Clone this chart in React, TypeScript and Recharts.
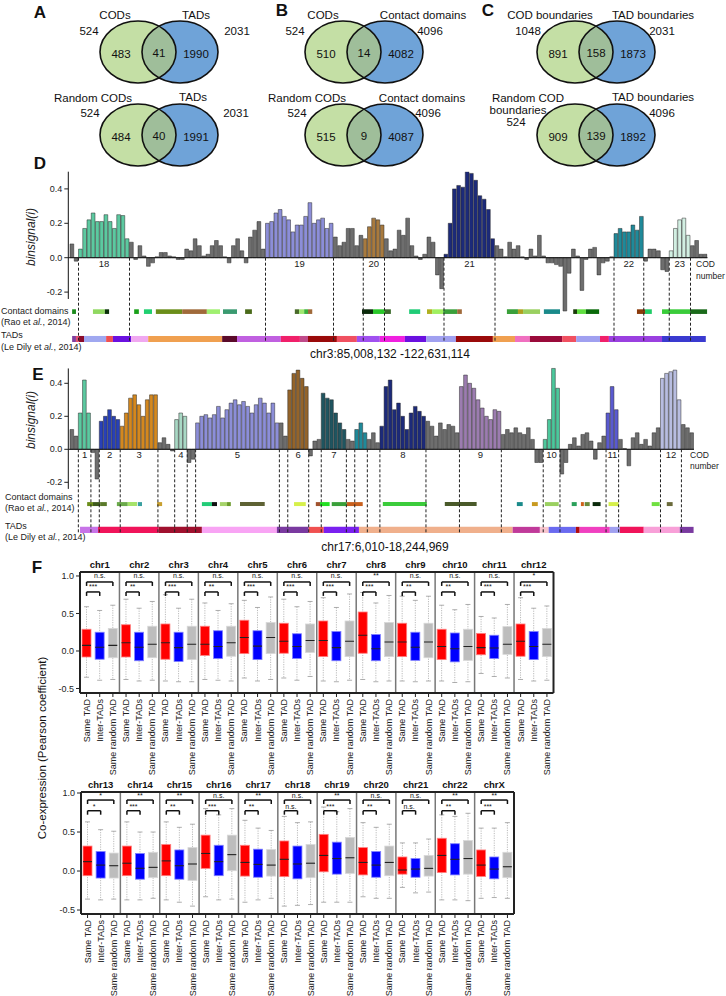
import React from 'react';
import {
  BarChart, Bar, Cell, XAxis, YAxis, ReferenceLine, ReferenceArea, ReferenceDot,
  ScatterChart, Scatter,
} from 'recharts';

const FONT = 'Arial, "Liberation Sans", Helvetica, sans-serif';

// ---------- A-C: Venn counts [left only, shared, right only]
const codVsTad = [483, 41, 1990];
const randomCodVsTad = [484, 40, 1991];
const codVsContact = [510, 14, 4082];
const randomCodVsContact = [515, 9, 4087];
const boundaryVsTad = [891, 158, 1873];
const randomBoundaryVsTad = [909, 139, 1892];
const vennTotalsTop = ['524', '2031', '524', '4096', '1048', '2031'];
const vennTotalsBottom = ['524', '2031', '524', '4096', '524', '4096'];

// ---------- D: chr3 binsignal
const chr3Signal = [
  0.08, -0.02, 0.05, 0.17, 0.22, 0.26, 0.21, 0.21, 0.25, 0.21, 0.17, 0.25, 0.245, 0.11,
  0.09, -0.01, 0.07, 0.01, -0.05, -0.03, 0.005, 0.03, 0.03, 0.01, 0.005, -0.01, -0.01, 0.05,
  0.04, 0.11, 0.07, 0.01, 0.02, 0.07, 0.1, 0.07, 0.005, -0.03, 0.07, 0.11, 0.04, -0.03,
  0.12, 0.16, 0.21, 0.05,
  0.2, 0.21, 0.26, 0.28, 0.24, 0.22, 0.15, 0.19, 0.19, 0.24, 0.32, 0.2, 0.22, 0.23, 0.17, 0.2,
  0.12, 0.07, 0.09, 0.17, 0.17, 0.07, 0.13,
  0.11, 0.18, 0.23, 0.22, 0.19,
  0.11, 0.04, 0.05, 0.16, 0.13, 0.23, 0.07, 0.01, -0.01, 0.02, 0.12, 0.09, -0.1, -0.18,
  0.02, 0.2, 0.4, 0.42, 0.41, 0.5, 0.49, 0.45, 0.36, 0.34, 0.28, 0.11,
  0.07, 0.05, 0.005, 0.09, 0.05, 0.07, 0.005, -0.01, 0.05, 0.01, 0.13, 0.01, -0.03, -0.03,
  -0.04, -0.05, -0.31, -0.09, 0.05, 0.01, -0.19, -0.01, 0.05, 0.06, -0.1, -0.03, -0.02, 0.005,
  0.14, 0.17, 0.15, 0.15, 0.19, 0.16, 0.24,
  -0.02, 0.05, 0.05, 0.04, -0.07, -0.08,
  0.04, 0.17, 0.22, 0.23, 0.13,
  0.07, 0.1, 0.02, 0.02,
];
const chr3CodLabels = ['18', '19', '20', '21', '22', '23'];
const chr3CodBins = [[2, 14], [46, 62], [69, 74], [88, 100], [128, 135], [141, 146]];
const chr3CodColors = ['#5cc9a0', '#8c8ed8', '#a87a3e', '#1c2a7a', '#1f8a9a', '#d2efe2'];
const chr3ContactBins = [
  [0.5, 1.4], [5.4, 8.2], [8.2, 9.2], [15.1, 16.2], [17.4, 19.3], [20.2, 26.4], [26.4, 32.2],
  [32.2, 35.3], [36, 39.3], [41.2, 42.8], [52.9, 53.9], [53.9, 55.1], [55.1, 56], [56, 57],
  [68.7, 71.3], [71.3, 74.1], [74.1, 75.5], [79.8, 82.4], [84, 85.2], [85.2, 87.8], [87.8, 91.1],
  [91.1, 92.2], [102.8, 105.4], [105.4, 106.6], [106.6, 110.6], [111.5, 115.3], [118.4, 119.3],
  [119.3, 121.4], [121.4, 124.5], [133.4, 135.3], [135.3, 136.9], [139.3, 145.9], [145.9, 149.9],
];
const chr3ContactColors = [
  '#1a8a1a', '#90d860', '#0a300a', '#18a018', '#20d070', '#6b8e1a', '#a06a3a',
  '#a0f070', '#3a9a70', '#4a6a1a', '#4a6a2a', '#a0e870', '#3ab03a', '#a06a3a',
  '#0a2a0a', '#2ac82a', '#3a6a2a', '#20cc77', '#b0b020', '#a0f060', '#3aa03a',
  '#a06a3a', '#3aa03a', '#b0a020', '#9ad060', '#1a8a8a', '#1a3a0a',
  '#60e040', '#0a6a0a', '#8a3a0a', '#20cc66', '#3acc3a', '#1a6a1a',
];
const chr3TadBins = [
  [0.5, 1.4], [1.4, 2.1], [2.1, 3.3], [3.3, 8.5], [8.5, 10.1], [10.1, 14.4], [14.4, 18.4],
  [18.4, 35.8], [35.8, 39.3], [39.3, 49.6], [49.6, 54.1], [54.1, 56], [56, 62.8], [62.8, 67.5],
  [67.5, 72.9], [72.9, 78.8], [78.8, 83.8], [83.8, 90.8], [90.8, 99.5], [99.5, 104.7],
  [104.7, 108.2], [108.2, 115.8], [115.8, 119.1], [119.1, 124.7], [124.7, 126.8],
  [126.8, 139.3], [139.3, 149.6],
];
const chr3TadColors = [
  '#8040a0', '#e05070', '#8b0a2a', '#a0a8f0', '#f05050', '#6a10e0', '#f0a8f0',
  '#f0a050', '#5a0a2a', '#c060e0', '#f0206a', '#c04a8a', '#9a0a0a', '#f05060',
  '#a050f0', '#f020e0', '#6a10e0', '#a0a0f0', '#9a0a0a', '#f0a050',
  '#f070c0', '#9a0a3a', '#f05060', '#a0a0f0', '#f0206a',
  '#9a40e0', '#3a3ad0',
];

// ---------- E: chr17 binsignal
const chr17Signal = [
  0.12, 0.08,
  0.22, 0.42, 0.22,
  -0.02, -0.18,
  0.17, 0.2, 0.24, 0.2, 0.18,
  0.14, 0.22, 0.31, 0.33, 0.27, 0.2, 0.3, 0.33, 0.33,
  0.04, 0.07, 0.03, -0.01,
  0.18, 0.22, 0.2,
  -0.08, -0.06,
  0.16, 0.2, 0.21, 0.19, 0.21, 0.26, 0.19, 0.24, 0.28, 0.3, 0.27, 0.29, 0.26, 0.22, 0.27,
  0.31, 0.28, 0.22, 0.28, 0.16,
  0.16, 0.08,
  0.36, 0.46, 0.48, 0.43, 0.38,
  -0.04, 0.05, 0.06,
  0.34, 0.31, 0.3, 0.22, 0.16, 0.12,
  0.06, 0.05,
  0.12, 0.16, 0.1,
  0.06, 0.1, 0.04,
  0.14, 0.38, 0.42, 0.24, 0.28, 0.2, 0.12, 0.22, 0.26, 0.23, 0.2,
  0.17, 0.14, 0.08, 0.16, 0.12, 0.15, 0.14, 0.1,
  0.38, 0.45, 0.4, 0.37, 0.3, 0.25, 0.2, 0.18, 0.24, 0.23,
  0.09, 0.12, 0.1, 0.13, 0.1, 0.09, 0.13, 0.06, -0.08, -0.08,
  0.06, 0.18, 0.49, 0.37,
  -0.15, -0.08, 0.03, 0.07, 0.02, 0.09, 0.1, 0.05, -0.06, 0.04, 0.08,
  0.22, 0.38, 0.24,
  0.06, 0.005, -0.1, 0.07, 0.1, 0.03, 0.06, 0.02, 0.1, 0.13,
  0.43, 0.46, 0.47, 0.48, 0.3,
  0.15, 0.13, 0.1,
];
const chr17CodLabels = ['1', '2', '3', '4', '5', '6', '7', '', '8', '9', '10', '11', '12'];
const chr17CodBins = [
  [2, 5], [7, 12], [12, 21], [25, 28], [30, 50], [52, 57], [60, 66], [68, 71], [74, 85],
  [93, 103], [113, 117], [128, 131], [141, 146],
];
const chr17CodColors = [
  '#5cc9a0', '#2840b8', '#d4881e', '#a8d8c4', '#8c8ed8', '#94642a', '#1f5560', '#1f8a9a',
  '#1c2a7a', '#9c7cb0', '#4cc89c', '#5a5ad0', '#b8bde0',
];
const chr17ContactBins = [
  [4.1, 5.5], [5.5, 7.2], [7.2, 8.8], [11.2, 13.8], [13.8, 16], [16.2, 17.2], [20.8, 22],
  [31.5, 33.9], [33.9, 35.1], [35.8, 37.5], [37.5, 38.4], [40.6, 46.5], [53.5, 56.3],
  [58.7, 59.7], [59.7, 62], [62.5, 66.1], [66.1, 69.9], [74.7, 85.2], [89.5, 97.1],
  [106.7, 108.1], [110.3, 111.7], [113.4, 116.7], [119.8, 121], [122, 122.7], [122.9, 124.1],
  [124.8, 126.7], [128.6, 131], [138.9, 140.8], [142.5, 143.9],
];
const chr17ContactColors = [
  '#6b8e1a', '#3e5a1c', '#5a7a2a', '#6aaa4a', '#a6e36a', '#3aa0a0', '#c8a030',
  '#22cc77', '#111111', '#a6d36a', '#6a9a2a', '#5e6234', '#d6f04a',
  '#a0522d', '#22e022', '#3aa03a', '#c8601e', '#3ccc3c', '#4a5a2a',
  '#1a8a8a', '#c89a20', '#9ad060', '#2aa05a', '#d0601a', '#6a8a3a',
  '#0a2a0a', '#d6f04a', '#70e040', '#6a6a3a',
];
const chr17TadBins = [
  [2.4, 6.7], [6.7, 21.2], [21.2, 31.5], [31.5, 49.4], [49.4, 57], [57, 60.6], [60.6, 69],
  [69, 105.7], [105.7, 112.2], [112.2, 114.3], [114.3, 120.8], [120.8, 121.7], [121.7, 128.9],
  [128.9, 131.3], [131.3, 137], [137, 145.6], [145.6, 148.9],
];
const chr17TadColors = [
  '#c774e8', '#f0145a', '#a0102e', '#f8a4f4', '#7a3aa0', '#f05050', '#7a20f0',
  '#f0b08c', '#c03a9a', '#f8c4cc', '#6a6af0', '#b00a0a', '#f040c0',
  '#a0a0f0', '#f0145a', '#f8a0d8', '#7a3aa0',
];

// ---------- F: co-expression box plots  [lower whisker, Q1, median, Q3, upper whisker]
const chrRow1 = ['chr1', 'chr2', 'chr3', 'chr4', 'chr5', 'chr6', 'chr7', 'chr8', 'chr9', 'chr10', 'chr11', 'chr12'];
const chrRow2 = ['chr13', 'chr14', 'chr15', 'chr16', 'chr17', 'chr18', 'chr19', 'chr20', 'chr21', 'chr22', 'chrX'];
const groups = ['Same TAD', 'Inter-TADs', 'Same random TAD'];
const sameTad = [
  [-0.35, -0.08, 0.075, 0.29, 0.59], [-0.38, -0.08, 0.11, 0.35, 0.69], [-0.4, -0.11, 0.11, 0.36, 0.75],
  [-0.38, -0.06, 0.09, 0.33, 0.64], [-0.36, -0.035, 0.18, 0.41, 0.675], [-0.36, -0.03, 0.13, 0.37, 0.69],
  [-0.4, -0.075, 0.14, 0.4, 0.71], [-0.38, -0.03, 0.21, 0.52, 0.78], [-0.4, -0.075, 0.12, 0.37, 0.73],
  [-0.4, -0.115, 0.06, 0.29, 0.61], [-0.3, -0.05, 0.045, 0.235, 0.46], [-0.38, -0.07, 0.13, 0.36, 0.71],
  [-0.36, -0.06, 0.12, 0.32, 0.63], [-0.37, -0.06, 0.1, 0.32, 0.63], [-0.37, -0.06, 0.13, 0.34, 0.63],
  [-0.33, 0.034, 0.225, 0.46, 0.8], [-0.4, -0.065, 0.11, 0.33, 0.65], [-0.45, -0.072, 0.15, 0.385, 0.7],
  [-0.4, -0.01, 0.2, 0.47, 0.82], [-0.33, -0.05, 0.11, 0.3, 0.62], [-0.21, -0.04, 0.013, 0.18, 0.36],
  [-0.37, -0.02, 0.2, 0.42, 0.72], [-0.35, -0.07, 0.076, 0.27, 0.55],
];
const interTads = [
  [-0.39, -0.11, 0.05, 0.25, 0.54], [-0.4, -0.13, 0.05, 0.25, 0.57], [-0.41, -0.14, 0.045, 0.25, 0.57],
  [-0.39, -0.1, 0.06, 0.27, 0.54], [-0.4, -0.115, 0.065, 0.27, 0.58], [-0.39, -0.1, 0.06, 0.23, 0.59],
  [-0.41, -0.13, 0.045, 0.26, 0.58], [-0.41, -0.13, 0.03, 0.22, 0.64], [-0.41, -0.125, 0.05, 0.25, 0.675],
  [-0.42, -0.145, 0.03, 0.24, 0.55], [-0.34, -0.1, 0.04, 0.21, 0.44], [-0.4, -0.115, 0.06, 0.26, 0.57],
  [-0.37, -0.09, 0.076, 0.25, 0.53], [-0.37, -0.105, 0.035, 0.225, 0.5], [-0.4, -0.105, 0.068, 0.27, 0.56],
  [-0.37, -0.06, 0.12, 0.33, 0.72], [-0.37, -0.08, 0.085, 0.28, 0.55], [-0.44, -0.1, 0.09, 0.32, 0.62],
  [-0.4, -0.04, 0.16, 0.37, 0.76], [-0.35, -0.08, 0.076, 0.25, 0.56], [-0.28, -0.08, 0.025, 0.16, 0.36],
  [-0.37, -0.05, 0.15, 0.35, 0.7], [-0.34, -0.1, 0.025, 0.18, 0.55],
];
const sameRandomTad = [
  [-0.38, -0.09, 0.075, 0.3, 0.61], [-0.39, -0.09, 0.09, 0.33, 0.66], [-0.41, -0.115, 0.09, 0.33, 0.69],
  [-0.4, -0.07, 0.11, 0.33, 0.63], [-0.38, -0.035, 0.18, 0.38, 0.72], [-0.34, -0.02, 0.14, 0.36, 0.66],
  [-0.39, -0.075, 0.13, 0.4, 0.76], [-0.4, -0.075, 0.12, 0.38, 0.74], [-0.4, -0.09, 0.12, 0.37, 0.73],
  [-0.41, -0.125, 0.06, 0.29, 0.62], [-0.36, -0.045, 0.09, 0.325, 0.62], [-0.39, -0.075, 0.09, 0.3, 0.6],
  [-0.36, -0.09, 0.068, 0.23, 0.51], [-0.35, -0.085, 0.047, 0.24, 0.5], [-0.45, -0.12, 0.09, 0.3, 0.6],
  [-0.36, 0.004, 0.21, 0.46, 0.8], [-0.35, -0.065, 0.076, 0.275, 0.52], [-0.43, -0.085, 0.1, 0.34, 0.63],
  [-0.4, -0.03, 0.17, 0.43, 0.8], [-0.35, -0.06, 0.11, 0.32, 0.6], [-0.27, -0.065, 0.034, 0.2, 0.41],
  [-0.38, -0.04, 0.16, 0.39, 0.74], [-0.35, -0.085, 0.055, 0.24, 0.62],
];
const sigSameVsRandom = [
  'n.s.', 'n.s.', 'n.s.', 'n.s.', 'n.s.', 'n.s.', 'n.s.', '**', 'n.s.', 'n.s.', 'n.s.', '*',
  '*', '**', '**', 'n.s.', '**', 'n.s.', '**', 'n.s.', 'n.s.', '**', '**',
];
const sigSameVsInter = [
  '***', '**', '***', '**', '***', '***', '***', '***', '**', '**', '***', '***',
  '*', '***', '**', '***', '**', 'n.s.', '***', '**', 'n.s.', '**', '***',
];

// ---------------------------------------------------------------- Venn
const GREEN = '#c4dfa5';
const BLUE = '#6fa3d8';
const OVERLAP = '#9fbe9a';
const RX = 38;
const RY = 31;
const GAP = 42;

function Venn({ id, counts, cx, cy }: { id: string; counts: number[]; cx: number; cy: number }) {
  const pts = [
    { x: GAP, y: 0, kind: 'fillR' },
    { x: 0, y: 0, kind: 'fillL' },
    { x: GAP / 2, y: 0, kind: 'lens' },
    { x: GAP, y: 0, kind: 'line' },
    { x: 0, y: 0, kind: 'line' },
    { x: -17, y: -2, kind: 'text', label: counts[0] },
    { x: 21, y: -1, kind: 'text', label: counts[1] },
    { x: 58, y: -2, kind: 'text', label: counts[2] },
  ];
  const shape = (p: any) => {
    const { cx: x, cy: y, payload } = p;
    if (payload.kind === 'fillR') return <ellipse cx={x} cy={y} rx={RX} ry={RY} fill={BLUE} />;
    if (payload.kind === 'fillL') return <ellipse cx={x} cy={y} rx={RX} ry={RY} fill={GREEN} />;
    if (payload.kind === 'lens')
      return (
        <g>
          <defs>
            <clipPath id={`lens-${id}`}>
              <ellipse cx={x + GAP / 2} cy={y} rx={RX} ry={RY} />
            </clipPath>
          </defs>
          <ellipse cx={x - GAP / 2} cy={y} rx={RX} ry={RY} fill={OVERLAP} clipPath={`url(#lens-${id})`} />
        </g>
      );
    if (payload.kind === 'line')
      return <ellipse cx={x} cy={y} rx={RX} ry={RY} fill="none" stroke="#111" strokeWidth={1.6} />;
    return (
      <text x={x} y={y} textAnchor="middle" dominantBaseline="central" fontSize={11.5} fill="#111" fontFamily={FONT}>
        {payload.label}
      </text>
    );
  };
  return (
    <div style={{ position: 'absolute', left: cx - 60, top: cy - 40 }}>
      <ScatterChart width={200} height={80} margin={{ top: 0, right: 0, bottom: 0, left: 0 }}>
        <XAxis type="number" dataKey="x" domain={[-60, 140]} hide />
        <YAxis type="number" dataKey="y" domain={[-40, 40]} hide />
        <Scatter data={pts} shape={shape} isAnimationActive={false} />
      </ScatterChart>
    </div>
  );
}

// ---------------------------------------------------------------- D / E
type SignalProps = {
  top: number;
  height: number;
  plotTop: number;
  plotBottom: number;
  right: number;
  yMin: number;
  axisTop: number;
  values: number[];
  codLabels: string[];
  codBins: number[][];
  codColors: string[];
  contactBins: number[][];
  contactColors: string[];
  tadBins: number[][];
  tadColors: string[];
  contactY: number[];
  tadY: number[];
  labelY: number;
};

function SignalPanel(p: SignalProps) {
  const n = p.values.length;
  const data = p.values.map((v, i) => ({ pos: i + 0.5, v }));
  const colorOf = (i: number) => {
    const k = p.codBins.findIndex(([a, b]) => i >= a && i < b);
    return k >= 0 ? p.codColors[k] : '#6e6e6e';
  };
  const edges = Array.from(new Set(p.codBins.flat())).sort((a, b) => a - b);
  const plotLeft = 68.3;
  const pitch = (p.right - 70) / n;
  const barW = Math.max(pitch - 0.5, 1);
  return (
    <div style={{ position: 'absolute', left: 0, top: p.top }}>
      <BarChart
        width={726}
        height={p.height}
        data={data}
        margin={{ top: p.plotTop - p.top, right: 726 - p.right, bottom: p.top + p.height - p.plotBottom, left: plotLeft - 40 }}
      >
        <XAxis type="number" dataKey="pos" domain={[-0.4, n]} hide allowDataOverflow />
        <YAxis
          type="number"
          domain={[p.yMin, 0.5]}
          allowDataOverflow
          ticks={[-0.2, 0, 0.2, 0.4]}
          tickFormatter={(v: number) => v.toFixed(1)}
          width={40}
          axisLine={false}
          tickLine={{ stroke: '#222' }}
          tickSize={4}
          tick={{ fontSize: 9, fill: '#222', fontFamily: FONT }}
        />
        {p.contactBins.map(([a, b], i) => (
          <ReferenceArea key={`c${i}`} x1={a} x2={b} y1={p.contactY[0]} y2={p.contactY[1]} fill={p.contactColors[i]} fillOpacity={1} stroke="none" ifOverflow="visible" />
        ))}
        {p.tadBins.map(([a, b], i) => (
          <ReferenceArea key={`t${i}`} x1={a} x2={b} y1={p.tadY[0]} y2={p.tadY[1]} fill={p.tadColors[i]} fillOpacity={1} stroke="none" ifOverflow="visible" />
        ))}
        <Bar dataKey="v" barSize={barW} stroke="#2a2a2a" strokeWidth={0.5} isAnimationActive={false}>
          {data.map((d, i) => (
            <Cell key={i} fill={colorOf(i)} />
          ))}
        </Bar>
        <ReferenceLine y={0} stroke="#111" strokeWidth={1} />
        <ReferenceLine segment={[{ x: -0.4, y: p.axisTop }, { x: -0.4, y: -0.24 }]} stroke="#111" strokeWidth={1} />
        {edges.map((e) => (
          <ReferenceLine key={`d${e}`} segment={[{ x: e, y: 0 }, { x: e, y: p.tadY[1] }]} stroke="#222" strokeWidth={1} strokeDasharray="3 2" ifOverflow="visible" />
        ))}
        {p.codBins.map(([a, b], i) =>
          p.codLabels[i] ? (
            <ReferenceDot key={`l${i}`} x={(a + b) / 2} y={p.labelY} r={1} fill="none" stroke="none"
              label={{ value: p.codLabels[i], position: 'center', fontSize: 9.5, fill: '#222', fontFamily: FONT }} />
          ) : null,
        )}
      </BarChart>
    </div>
  );
}

// ---------------------------------------------------------------- F
const BOX_FILL = ['#ff0000', '#0000ff', '#bdbdbd'];
const BOX_EDGE = ['#ff8080', '#8080ff', '#d8d8d8'];

const BoxShape = (props: any) => {
  const { x, y, width, height, payload } = props;
  const [lo, q1, med, q3, hi] = payload.s;
  const top = Math.min(y, y + height);
  const h = Math.abs(height);
  const py = (v: number) => top + ((hi - v) / (hi - lo)) * h;
  const cx = x + width / 2;
  const g = payload.g;
  return (
    <g>
      <line x1={cx} x2={cx} y1={py(hi)} y2={py(lo)} stroke="#aaa" strokeWidth={0.8} strokeDasharray="1.2 1.2" />
      <line x1={cx - 2.5} x2={cx + 2.5} y1={py(hi)} y2={py(hi)} stroke="#999" strokeWidth={0.8} />
      <line x1={cx - 2.5} x2={cx + 2.5} y1={py(lo)} y2={py(lo)} stroke="#999" strokeWidth={0.8} />
      <rect x={x} y={py(q3)} width={width} height={py(q1) - py(q3)} fill={BOX_FILL[g]} stroke={BOX_EDGE[g]} strokeWidth={0.8} />
      <line x1={x} x2={x + width} y1={py(med)} y2={py(med)} stroke="#222" strokeWidth={1.1} />
    </g>
  );
};

const GroupTick = (p: any) => {
  const { x, y, payload } = p;
  const label = groups[Math.floor(payload.value) % 3];
  return (
    <text x={x} y={y} transform={`rotate(-90 ${x} ${y})`} textAnchor="end" dominantBaseline="central" fontSize={9} fill="#222" fontFamily={FONT}>
      {label}
    </text>
  );
};

type RowProps = {
  chrs: string[];
  first: number;
  top: number;
  plotTop: number;
  plotBottom: number;
  plotLeft: number;
  plotRight: number;
  height: number;
  yDomain: number[];
  outerY: number;
  innerY: number;
  drop: number;
  outerLabelY: number;
  innerLabelY: number;
};

function BoxRow(p: RowProps) {
  const data: any[] = [];
  p.chrs.forEach((c, k) => {
    [sameTad, interTads, sameRandomTad].forEach((st, j) => {
      const s = st[p.first + k];
      data.push({ pos: 3 * k + j + 0.5, g: j, s, rng: [s[0], s[4]] });
    });
  });
  const n = p.chrs.length * 3;
  const ticks = data.map((d) => d.pos);
  const seps = p.chrs.slice(1).map((_, k) => 3 * (k + 1));
  const refs: React.ReactNode[] = [];
  p.chrs.forEach((c, k) => {
    const a = 3 * k + 0.5;
    const b = 3 * k + 1.5;
    const r = 3 * k + 2.5;
    const so = sigSameVsRandom[p.first + k];
    const si = sigSameVsInter[p.first + k];
    refs.push(
      <ReferenceLine key={`o${k}`} segment={[{ x: a, y: p.outerY }, { x: r, y: p.outerY }]} stroke="#111" strokeWidth={1.5} />,
      <ReferenceLine key={`oa${k}`} segment={[{ x: a, y: p.outerY }, { x: a, y: p.outerY - p.drop }]} stroke="#111" strokeWidth={1.5} />,
      <ReferenceLine key={`ob${k}`} segment={[{ x: r, y: p.outerY }, { x: r, y: p.outerY - p.drop }]} stroke="#111" strokeWidth={1.5} />,
      <ReferenceLine key={`i${k}`} segment={[{ x: a, y: p.innerY }, { x: b, y: p.innerY }]} stroke="#111" strokeWidth={1.5} />,
      <ReferenceLine key={`ia${k}`} segment={[{ x: a, y: p.innerY }, { x: a, y: p.innerY - p.drop }]} stroke="#111" strokeWidth={1.5} />,
      <ReferenceLine key={`ib${k}`} segment={[{ x: b, y: p.innerY }, { x: b, y: p.innerY - p.drop }]} stroke="#111" strokeWidth={1.5} />,
      <ReferenceDot key={`ol${k}`} x={(a + r) / 2} y={p.outerLabelY} r={1} fill="none" stroke="none"
        label={{ value: so, position: 'center', fontSize: 7, fill: '#111', fontFamily: FONT }} />,
      <ReferenceDot key={`il${k}`} x={(a + b) / 2} y={p.innerLabelY} r={1} fill="none" stroke="none"
        label={{ value: si, position: 'center', fontSize: 7, fill: '#111', fontFamily: FONT }} />,
      <ReferenceDot key={`t${k}`} x={3 * k + 1.5} y={p.yDomain[1]} r={1} fill="none" stroke="none" ifOverflow="visible"
        label={{ value: c, position: 'top', offset: 3, fontSize: 9.5, fontWeight: 'bold', fill: '#111', fontFamily: FONT }} />,
    );
  });
  return (
    <div style={{ position: 'absolute', left: 0, top: p.top }}>
      <BarChart
        width={p.plotRight + 6}
        height={p.height}
        data={data}
        margin={{ top: p.plotTop - p.top, right: 6, bottom: 0, left: p.plotLeft - 30 }}
      >
        <XAxis
          type="number"
          dataKey="pos"
          domain={[0, n]}
          ticks={ticks}
          interval={0}
          tick={<GroupTick />}
          tickSize={4}
          tickLine={{ stroke: '#222' }}
          axisLine={{ stroke: '#222', strokeWidth: 2 }}
          height={p.top + p.height - p.plotBottom}
          allowDataOverflow
        />
        <YAxis
          type="number"
          domain={p.yDomain}
          allowDataOverflow
          ticks={[-0.5, 0, 0.5, 1]}
          tickFormatter={(v: number) => v.toFixed(1)}
          width={30}
          tickSize={4}
          tickLine={{ stroke: '#222' }}
          axisLine={{ stroke: '#222', strokeWidth: 2 }}
          tick={{ fontSize: 9, fill: '#222', fontFamily: FONT }}
        />
        {seps.map((s) => (
          <ReferenceLine key={`s${s}`} x={s} stroke="#777" strokeWidth={1.5} />
        ))}
        <ReferenceLine y={p.yDomain[1]} stroke="#222" strokeWidth={2} />
        <ReferenceLine x={n} stroke="#222" strokeWidth={2} />
        <Bar dataKey="rng" barSize={9} shape={<BoxShape />} isAnimationActive={false} />
        {refs}
      </BarChart>
    </div>
  );
}

// ---------------------------------------------------------------- page
type T = [string, number, number];
const texts: T[] = [
  ['CODs', 115, 15], ['TADs', 196, 15], [vennTotalsTop[0], 89, 31], [vennTotalsTop[1], 237, 31],
  ['Random CODs', 93, 98], ['TADs', 193, 97], [vennTotalsBottom[0], 90, 113], [vennTotalsBottom[1], 236, 113],
  ['CODs', 323, 15], ['Contact domains', 423, 15], [vennTotalsTop[2], 295, 31], [vennTotalsTop[3], 430, 31],
  ['Random CODs', 307, 98], ['Contact domains', 422, 98], [vennTotalsBottom[2], 297, 113], [vennTotalsBottom[3], 428, 113],
  ['COD boundaries', 550, 15], ['TAD boundaries', 653, 15], [vennTotalsTop[4], 528, 31], [vennTotalsTop[5], 662, 31],
  ['Random COD', 528, 98], ['boundaries', 518, 110], [vennTotalsBottom[4], 516, 122],
  ['TAD boundaries', 653, 97], [vennTotalsBottom[5], 662, 113],
];

const Ref = ({ x, y, who }: { x: number; y: number; who: string }) => (
  <text x={x} y={y} fontSize={9} fill="#222" dominantBaseline="central">
    ({who} <tspan fontStyle="italic">al.</tspan>, 2014)
  </text>
);

const Small = ({ x, y, t }: { x: number; y: number; t: string }) => (
  <text x={x} y={y} fontSize={9} fill="#222" dominantBaseline="central">{t}</text>
);

export default function App() {
  return (
    <div style={{ position: 'absolute', left: 0, top: 0, width: 726, height: 996, background: '#fff', fontFamily: FONT }}>
      <Venn id="a1" counts={codVsTad} cx={138} cy={52} />
      <Venn id="a2" counts={randomCodVsTad} cx={138} cy={135} />
      <Venn id="b1" counts={codVsContact} cx={343} cy={52} />
      <Venn id="b2" counts={randomCodVsContact} cx={343} cy={135} />
      <Venn id="c1" counts={boundaryVsTad} cx={575} cy={52} />
      <Venn id="c2" counts={randomBoundaryVsTad} cx={575} cy={135} />

      <SignalPanel
        top={160} height={200} plotTop={171.7} plotBottom={343.7} right={707.5} yMin={-0.5} axisTop={0.5}
        values={chr3Signal} codLabels={chr3CodLabels} codBins={chr3CodBins} codColors={chr3CodColors}
        contactBins={chr3ContactBins} contactColors={chr3ContactColors}
        tadBins={chr3TadBins} tadColors={chr3TadColors}
        contactY={[-0.3, -0.327]} tadY={[-0.455, -0.49]} labelY={-0.037}
      />
      <SignalPanel
        top={355} height={200} plotTop={366.8} plotBottom={535.1} right={694} yMin={-0.52} axisTop={0.49}
        values={chr17Signal} codLabels={chr17CodLabels} codBins={chr17CodBins} codColors={chr17CodColors}
        contactBins={chr17ContactBins} contactColors={chr17ContactColors}
        tadBins={chr17TadBins} tadColors={chr17TadColors}
        contactY={[-0.32, -0.344]} tadY={[-0.47, -0.507]} labelY={-0.035}
      />

      <BoxRow
        chrs={chrRow1} first={0} top={554} height={239} plotTop={572} plotBottom={693} plotLeft={80} plotRight={553.5}
        yDomain={[-0.56, 1.053]} outerY={0.92} innerY={0.787} drop={0.053} outerLabelY={1.0} innerLabelY={0.853}
      />
      <BoxRow
        chrs={chrRow2} first={12} top={774} height={222} plotTop={792} plotBottom={914} plotLeft={81} plotRight={514}
        yDomain={[-0.551, 1.013]} outerY={0.91} innerY={0.773} drop={0.051} outerLabelY={0.965} innerLabelY={0.833}
      />

      <svg width={726} height={996} style={{ position: 'absolute', left: 0, top: 0, pointerEvents: 'none' }} fontFamily={FONT}>
        {[['A', 40, 12], ['B', 282, 10], ['C', 488, 10], ['D', 40, 163], ['E', 38, 374], ['F', 37, 567]].map(([l, x, y]) => (
          <text key={l as string} x={x as number} y={y as number} fontSize={17} fontWeight="bold" fill="#111" textAnchor="middle" dominantBaseline="central">
            {l}
          </text>
        ))}
        {texts.map(([t, x, y], i) => (
          <text key={i} x={x} y={y} fontSize={11.5} fill="#111" textAnchor="middle" dominantBaseline="central">
            {t}
          </text>
        ))}
        <text x={31} y={237} fontSize={12} fontStyle="italic" fill="#222" textAnchor="middle" dominantBaseline="central" transform="rotate(-90 31 237)">
          binsignal(i)
        </text>
        <Small x={1} y={311} t="Contact domains" />
        <Ref x={1} y={322} who="Rao et" />
        <Small x={1} y={335} t="TADs" />
        <Ref x={1} y={347} who="Le Dily et" />
        <text x={696} y={264} fontSize={8.5} fill="#222" dominantBaseline="central">COD</text>
        <text x={696} y={276} fontSize={8.5} fill="#222" dominantBaseline="central">number</text>
        <text x={390} y={354} fontSize={12} fill="#111" textAnchor="middle" dominantBaseline="central">chr3:85,008,132 -122,631,114</text>

        <text x={31} y={420} fontSize={12} fontStyle="italic" fill="#222" textAnchor="middle" dominantBaseline="central" transform="rotate(-90 31 420)">
          binsignal(i)
        </text>
        <Small x={5} y={497} t="Contact domains" />
        <Ref x={5} y={508} who="Rao et" />
        <Small x={5} y={526} t="TADs" />
        <Ref x={5} y={537} who="Le Dily et" />
        <text x={690} y={455} fontSize={8.5} fill="#222" dominantBaseline="central">COD</text>
        <text x={690} y={466} fontSize={8.5} fill="#222" dominantBaseline="central">number</text>
        <text x={385} y={547} fontSize={12} fill="#111" textAnchor="middle" dominantBaseline="central">chr17:6,010-18,244,969</text>

        <text x={42} y={748} fontSize={11.5} fill="#111" textAnchor="middle" dominantBaseline="central" transform="rotate(-90 42 748)">
          Co-expression (Pearson coefficient)
        </text>
      </svg>
    </div>
  );
}
